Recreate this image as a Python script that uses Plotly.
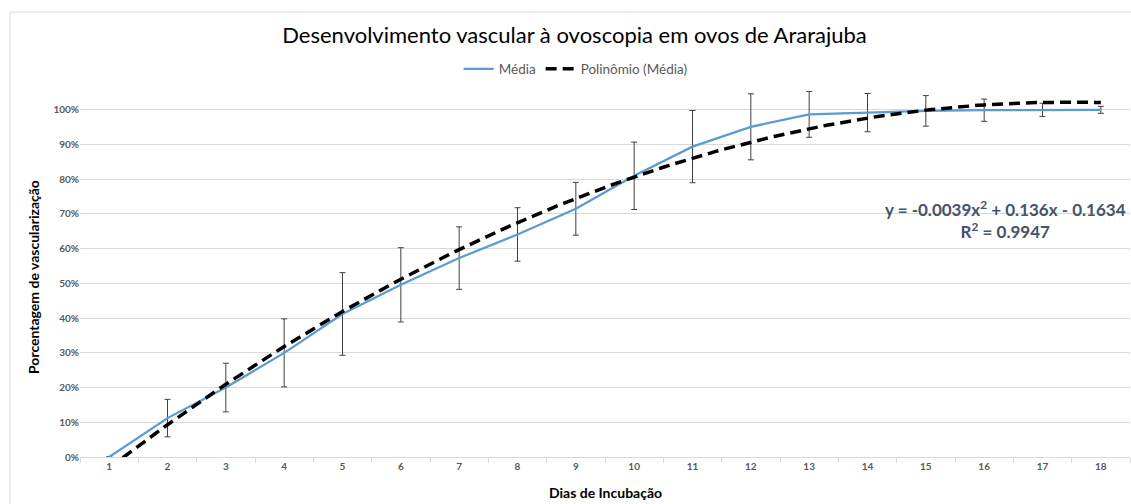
import numpy as np
import plotly.graph_objects as go

# ---- data ----
days = list(range(1, 19))
day_labels = [str(d) for d in days]
media = [0, 11.2, 20.0, 30.0, 41.2, 49.6, 57.3, 64.1, 71.5, 81.0, 89.4, 95.1, 98.7, 99.2, 99.7, 99.9, 100, 100]
erro = [0, 5.4, 7.0, 9.8, 11.9, 10.7, 9.0, 7.7, 7.6, 9.7, 10.4, 9.5, 6.6, 5.5, 4.4, 3.2, 1.9, 1.0]
trend_coeffs = [-0.0039, 0.136, -0.1634]   # y = a x^2 + b x + c  (fraction)
r2 = 0.9947
y_ticks = list(range(0, 101, 10))
y_tick_labels = [f"{v}%" for v in y_ticks]

title_text = "Desenvolvimento vascular à ovoscopia em ovos de Ararajuba"
x_title = "Dias de Incubação"
y_title = "Porcentagem de vascularização"

FONT = "Lato"

# trendline from the displayed polynomial
a, b, c = trend_coeffs
tx = np.linspace(days[0], days[-1], 171)
ty = 100 * (a * tx ** 2 + b * tx + c)

fig = go.Figure()
fig.add_trace(go.Scatter(
    x=days, y=media, mode="lines", name="Média",
    line=dict(color="#5B9BD5", width=2.25),
    error_y=dict(type="data", array=erro, visible=True, color="#404040", thickness=1, width=3),
))
fig.add_trace(go.Scatter(
    x=tx, y=ty, mode="lines", name="Polinômio (Média)",
    line=dict(color="#000000", width=3.5, dash="11px,6px"),
))

eq = (f"y = {a}x<sup>2</sup> + {b}x - {abs(c)}<br>"
      f"R<sup>2</sup> = {r2}")

fig.update_layout(
    width=1131, height=504,
    margin=dict(l=80, r=1, t=89, b=47),
    paper_bgcolor="white", plot_bgcolor="white",
    font=dict(family=FONT, color="#595959"),
    title=dict(text=title_text, xref="container", x=0.508, y=1 - 35 / 504,
               xanchor="center", yanchor="middle",
               font=dict(family=FONT, size=22, color="#000000")),
    legend=dict(orientation="h", xref="container", yref="container",
                x=0.509, y=1 - 69 / 504, xanchor="center", yanchor="middle",
                font=dict(family=FONT, size=13.5, color="#595959"),
                itemwidth=30, bgcolor="rgba(0,0,0,0)"),
    showlegend=True,
    xaxis=dict(
        range=[0.5, 18.5], tickmode="array", tickvals=days, ticktext=day_labels,
        ticks="", showgrid=False, zeroline=False,
        showline=True, linecolor="#d9d9d9", linewidth=1,
        tickfont=dict(family=FONT, size=10, color="#595959", weight="bold"),
        minor=dict(tickmode="array", tickvals=[d - 0.5 for d in days] + [18.5],
                   ticks="outside", ticklen=5, tickcolor="#d9d9d9", showgrid=False),
        fixedrange=True,
    ),
    yaxis=dict(
        range=[0, 106], tickmode="array", tickvals=y_ticks, ticktext=y_tick_labels,
        showgrid=True, gridcolor="#d9d9d9", gridwidth=1, zeroline=False,
        showline=False, ticks="",
        tickfont=dict(family=FONT, size=10, color="#595959", weight="bold"),
        fixedrange=True,
    ),
    annotations=[
        dict(text=eq, xref="paper", yref="paper", x=(1005.5 - 80) / 1050, y=(457 - 219) / 368,
             xanchor="center", yanchor="middle", align="center", showarrow=False,
             font=dict(family=FONT, size=17, color="#44546A", weight="bold")),
        dict(text=x_title, xref="paper", yref="paper", x=0.5, y=(457 - 492) / 368,
             xanchor="center", yanchor="middle", showarrow=False,
             font=dict(family=FONT, size=14, color="#000000", weight="bold")),
        dict(text=y_title, xref="paper", yref="paper", x=(33 - 80) / 1050, y=(457 - 277) / 368,
             xanchor="center", yanchor="middle", showarrow=False, textangle=-90,
             font=dict(family=FONT, size=14, color="#000000", weight="bold")),
    ],
    shapes=[
        dict(type="rect", xref="paper", yref="paper",
             x0=(10 - 80) / 1050, x1=1.02, y0=-0.3, y1=(457 - 12) / 368,
             line=dict(color="#d9d9d9", width=1), fillcolor="rgba(0,0,0,0)", layer="below"),
    ],
)

fig.write_html("out.html")
